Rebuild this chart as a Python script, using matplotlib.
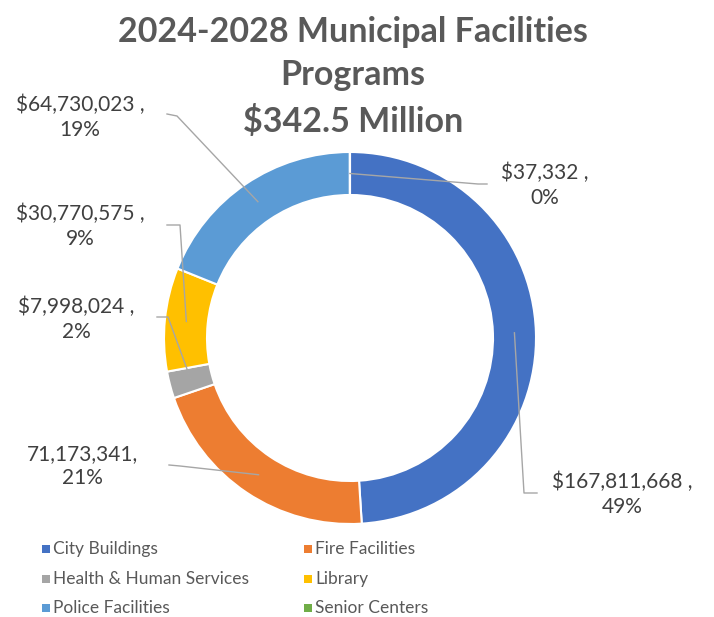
import numpy as np
import matplotlib
matplotlib.use('Agg')
import matplotlib.pyplot as plt

### Donnees
categories = ['City Buildings', 'Fire Facilities', 'Health & Human Services',
              'Library', 'Police Facilities', 'Senior Centers']
valeurs = [167811668, 71173341, 7998024, 30770575, 64730023, 37332]
couleurs = ['#4472C4', '#ED7D31', '#A5A5A5', '#FFC000', '#5B9BD5', '#70AD47']
formats_valeur = ['${:,} ,', '{:,},', '${:,} ,', '${:,} ,', '${:,} ,', '${:,} ,']
titre = ['2024-2028 Municipal Facilities', 'Programs', '$342.5 Million']

### Mise en page (pixels, origine en haut a gauche)
W, H = 714, 617
centre = (350, 338)
r_ext = 186
largeur_anneau = 43
pos_textes = [(622, 494), (82, 466), (76, 319), (80, 226), (80, 117), (545, 185)]
fin_lignes = [(537, 493), (169, 465), (157, 317), (167, 225), (167, 114), (487, 184)]
coudes = [(524, 493), (180, 466), (168, 317), (180, 225), (177, 116), (478, 184)]
# legende : colonnes x (carre), lignes y
leg_x = [43, 305]
leg_y = [549, 579, 608]

plt.rcParams['font.family'] = ['Lato', 'DejaVu Sans']

fig = plt.figure(figsize=(W/100, H/100), dpi=100)
ax = fig.add_axes([0, 0, 1, 1])

def py(y):
    return H - y

wedges, _ = ax.pie(valeurs, colors=couleurs, startangle=90, counterclock=False,
                   radius=r_ext, center=(centre[0], py(centre[1])),
                   wedgeprops=dict(width=largeur_anneau, edgecolor='white', linewidth=1.5))
ax.set_xlim(0, W)
ax.set_ylim(0, H)
ax.set_aspect('equal')
ax.axis('off')

total = sum(valeurs)
r_mid = r_ext - largeur_anneau/2
for i, w in enumerate(wedges):
    ang = np.deg2rad((w.theta1 + w.theta2) / 2)
    ax_x = centre[0] + r_mid*np.cos(ang)
    ax_y = py(centre[1]) + r_mid*np.sin(ang)
    xs = [ax_x, coudes[i][0], fin_lignes[i][0]]
    ys = [ax_y, py(coudes[i][1]), py(fin_lignes[i][1])]
    ax.plot(xs, ys, color='#A6A6A6', lw=1.0, zorder=5)
    pct = round(valeurs[i]/total*100)
    txt = formats_valeur[i].format(valeurs[i]) + '\n' + f'{pct}%'
    ax.text(pos_textes[i][0], py(pos_textes[i][1]), txt, ha='center', va='center',
            multialignment='center', fontsize=15, color='#404040', linespacing=1.3)

# Titre
for ligne, y in zip(titre, [32, 75, 122]):
    ax.text(353, py(y), ligne, ha='center', va='center', fontsize=24.5,
            fontweight='bold', color='#595959')

# Legende (ordre par ligne)
for k in range(len(categories)):
    col = k % 2
    row = k // 2
    ax.scatter(leg_x[col] + 3, py(leg_y[row]), marker='s', s=26,
               color=couleurs[k], linewidths=0)
    ax.text(leg_x[col] + 10, py(leg_y[row]), categories[k], ha='left',
            va='center', fontsize=12.5, color='#595959')

fig.savefig('out.png', dpi=100)
